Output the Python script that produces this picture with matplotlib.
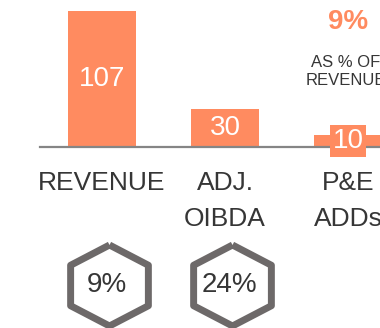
import matplotlib

matplotlib.use("Agg")
import matplotlib.pyplot as plt
from matplotlib.markers import MarkerStyle

plt.rcParams["font.family"] = ["Liberation Sans", "DejaVu Sans"]

categories = ["REVENUE", "ADJ.\nOIBDA", "P&E\nADDs"]
values = [107, 30, 10]
growth = ["9%", "24%"]          # badges under the first two bars
capex_share = "9%"
capex_note = "AS % OF\nREVENUE"

ORANGE = "#FF8B60"
TEXT = "#363636"
HEX_EDGE = "#6d6969"

fig = plt.figure(figsize=(3.8, 3.28), dpi=100)
ax = fig.add_axes([0, 0, 1, 1])

x = list(range(len(values)))
ax.bar(x, values, width=0.553, color=ORANGE, zorder=1)

for xi, v in zip(x, values):
    ax.text(xi, v / 2, str(v), ha="center", va="center", color="white",
            fontsize=20, zorder=3,
            bbox=dict(boxstyle="square,pad=0.1", fc=ORANGE, ec="none"))

# share of revenue callout above the last bar
ax.text(x[-1], 98, capex_share, ha="center", va="center", color=ORANGE,
        fontsize=20, fontweight="bold")
ax.text(x[-1] - 0.02, 59.5, capex_note, ha="center", va="center", color=TEXT,
        fontsize=12, linespacing=1.25)

# pointy-top hexagon badges, a little wider than regular
k = 0.96
hexagon = MarkerStyle([(0, 1), (k, 0.5), (k, -0.5), (0, -1), (-k, -0.5),
                       (-k, 0.5), (0, 1)], joinstyle="miter")
hx = [xi + 0.06 for xi in x[:len(growth)]]
hy = [-107.8] * len(growth)
ax.scatter(hx, hy, s=3400, marker=hexagon, facecolors="white",
           edgecolors=HEX_EDGE, linewidths=5, zorder=2)
for xi, yi, g in zip(hx, hy, growth):
    ax.text(xi - 0.02, yi, g, ha="center", va="center", color=TEXT, fontsize=20,
            zorder=3)

ax.set_xlim(-0.829, 2.26)
ax.set_ylim(-141.5, 115.6)

for side in ("left", "right", "top"):
    ax.spines[side].set_visible(False)
ax.spines["bottom"].set_position(("data", 0))
ax.spines["bottom"].set_bounds(-0.5, 2.4)
ax.spines["bottom"].set_color("#858585")
ax.spines["bottom"].set_linewidth(1.6)
ax.set_yticks([])
ax.set_xticks(x)
ax.set_xticklabels(categories, fontsize=19, color=TEXT, linespacing=1.62)
ax.tick_params(axis="x", length=0, pad=17)
ax.patch.set_alpha(0)

fig.savefig("out.png", dpi=100)
